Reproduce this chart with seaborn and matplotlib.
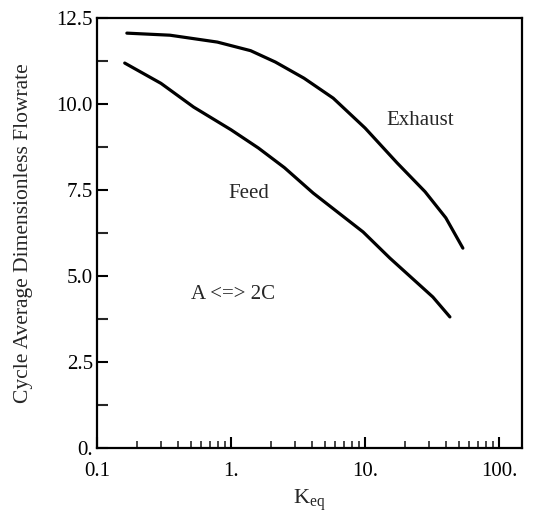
import numpy as np
import pandas as pd
import matplotlib
matplotlib.use("Agg")
import matplotlib.pyplot as plt
import matplotlib.ticker as mticker
import seaborn as sns

# Data
exhaust_k = [0.167, 0.35, 0.79, 1.4, 2.14, 3.5, 5.78, 10.0, 17.3, 28.0, 40.0, 53.6]
exhaust_q = [12.06, 12.00, 11.80, 11.55, 11.22, 10.75, 10.17, 9.30, 8.29, 7.45, 6.69, 5.81]
feed_k = [0.161, 0.3, 0.526, 1.0, 1.60, 2.5, 4.1, 9.66, 15.3, 32.0, 42.9]
feed_q = [11.19, 10.60, 9.91, 9.25, 8.72, 8.15, 7.41, 6.28, 5.52, 4.39, 3.81]

y_ticks_major = [0, 2.5, 5.0, 7.5, 10.0, 12.5]
y_tick_labels = ["0.", "2.5", "5.0", "7.5", "10.0", "12.5"]
x_ticks_major = [0.1, 1, 10, 100]
x_tick_labels = ["0.1", "1.", "10.", "100."]

df = pd.concat([
    pd.DataFrame({"K": exhaust_k, "Q": exhaust_q, "series": "Exhaust"}),
    pd.DataFrame({"K": feed_k, "Q": feed_q, "series": "Feed"}),
])

sns.set_style("ticks")
plt.rcParams["font.family"] = ["Liberation Serif", "DejaVu Serif"]
plt.rcParams["mathtext.fontset"] = "custom"
plt.rcParams["mathtext.rm"] = "Liberation Serif"
plt.rcParams["mathtext.it"] = "Liberation Serif"

fig = plt.figure(figsize=(5.40, 5.17), dpi=100)
ax = fig.add_axes([97/540, 1 - 448/517, (522-97)/540, (448-18)/517])

sns.lineplot(data=df, x="K", y="Q", hue="series", palette=["black", "black"],
             linewidth=2.3, legend=False, ax=ax, sort=True, estimator=None)

ax.set_xscale("log")
ax.set_xlim(0.1, 148)
ax.set_ylim(0, 12.5)

ax.set_xticks(x_ticks_major)
ax.set_xticklabels(x_tick_labels)
ax.xaxis.set_minor_locator(mticker.LogLocator(base=10, subs=np.arange(2, 10)))
ax.xaxis.set_minor_formatter(mticker.NullFormatter())
ax.set_yticks(y_ticks_major)
ax.set_yticklabels(y_tick_labels)
ax.yaxis.set_minor_locator(mticker.MultipleLocator(1.25))

ax.tick_params(axis="both", which="major", direction="in", length=8, width=1.5,
               labelsize=15, colors="black")
ax.tick_params(axis="x", which="major", pad=10)
ax.tick_params(axis="y", which="major", pad=3)
ax.tick_params(axis="x", which="minor", direction="in", length=5, width=1.2)
ax.tick_params(axis="y", which="minor", direction="in", length=8, width=1.5)
ax.tick_params(axis="x", which="both", top=False)
ax.tick_params(axis="y", which="both", right=False)

for s in ax.spines.values():
    s.set_visible(True)
    s.set_linewidth(1.6)
    s.set_color("black")

ax.set_xlabel(r"K$_{\mathrm{eq}}$", fontsize=16, labelpad=5)
ax.set_ylabel("Cycle Average Dimensionless Flowrate", fontsize=15.5, labelpad=17)

ax.text(25.6, 9.53, "Exhaust", fontsize=15, ha="center", va="center")
ax.text(1.35, 7.41, "Feed", fontsize=15, ha="center", va="center")
ax.text(0.5, 4.45, "A <=> 2C", fontsize=15, ha="left", va="center")

fig.savefig("out.png", dpi=100)
